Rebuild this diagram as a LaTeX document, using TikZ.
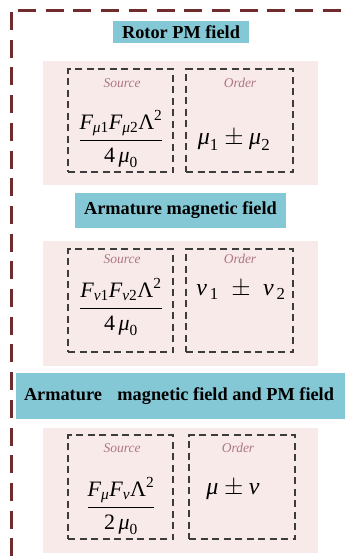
\documentclass[tikz,border=0pt]{standalone}
\usepackage{amsmath}
\usepackage{fontspec}
\setmainfont{Liberation Serif}
\definecolor{framec}{RGB}{112,44,44}
\definecolor{titlec}{RGB}{132,199,213}
\definecolor{panelc}{RGB}{249,234,234}
\definecolor{dboxc}{RGB}{60,60,60}
\definecolor{labc}{RGB}{172,118,128}
\newcommand\vi[1]{\text{\itshape #1}}
\newcommand\vr[1]{\text{#1}}
\newcommand\nup[1]{\raisebox{2pt}{$\displaystyle #1$}}
\newcommand\ddown[1]{\raisebox{-3pt}{$\displaystyle #1$}}
\tikzset{
  framel/.style={draw=framec,line width=2.4pt,dash pattern=on 18pt off 9.7pt},
  titlebox/.style={fill=titlec,inner sep=0pt,font=\bfseries\fontsize{18.3}{20}\selectfont},
  panel/.style={fill=panelc,inner sep=0pt,minimum width=275pt,minimum height=124pt},
  dbox/.style={draw=dboxc,line width=1.2pt,dash pattern=on 7pt off 4.5pt,inner sep=0pt,minimum height=103pt},
  lab/.style={text=labc,inner sep=0pt,font=\itshape\fontsize{13.5}{15}\selectfont},
  formula/.style={inner sep=0pt,text=black,font=\fontsize{22}{26}\selectfont},
  oformula/.style={inner sep=0pt,text=black,font=\fontsize{24}{28}\selectfont},
}
\begin{document}
\begin{tikzpicture}[x=1pt,y=-1pt]
\useasboundingbox (0,0) rectangle (345,560);
% outer dashed frame
\coordinate (ftl) at (18,10.5);
\coordinate (ftr) at (350,10.5);
\coordinate (fl1) at (11.5,12);
\coordinate (fl2) at (11.5,565);
\draw[framel] (ftl) -- (ftr);
\draw[framel] (fl1) -- (fl2);

% ---------- block 1 ----------
\node[titlebox,minimum width=136pt,minimum height=22pt] (t1) at (181,32) {Rotor PM field};
\node[panel] (p1) at (180.5,123) {};
\node[dbox,minimum width=105pt] (s1) at (120.5,120.5) {};
\node[dbox,minimum width=107pt] (o1) at (239.5,120.5) {};
\node[lab] (s1l) at (122,83) {Source};
\node[lab] (o1l) at (240,83) {Order};
\node[formula] (s1f) at (121,139) {$\dfrac{\nup{\vi{F}_{\vi{μ}\vr{1}}\vi{F}_{\vi{μ}\vr{2}}\vr{Λ}^{\vr{2}}}}{\ddown{\vr{4}\,\vi{μ}_{\vr{0}}}}$};
\node[oformula] (o1f) at (234,140) {$\vi{μ}_{\vr{1}}\pm\vi{μ}_{\vr{2}}$};

% ---------- block 2 ----------
\node[titlebox,minimum width=211pt,minimum height=35pt] (t2) at (180.5,210.5) {Armature magnetic field};
\node[panel,minimum height=125pt] (p2) at (180.5,303.5) {};
\node[dbox,minimum width=105pt] (s2) at (120.5,300.5) {};
\node[dbox,minimum width=107pt] (o2) at (239.5,300.5) {};
\node[lab] (s2l) at (122,259) {Source};
\node[lab] (o2l) at (240,259) {Order};
\node[formula] (s2f) at (121,307) {$\dfrac{\nup{\vi{F}_{\vi{ν}\vr{1}}\vi{F}_{\vi{ν}\vr{2}}\vr{Λ}^{\vr{2}}}}{\ddown{\vr{4}\,\vi{μ}_{\vr{0}}}}$};
\node[oformula] (o2f) at (241,290) {$\vi{ν}_{\,\vr{1}}\;\pm\;\vi{ν}_{\,\vr{2}}$};

% ---------- block 3 ----------
\node[titlebox,minimum width=338pt,minimum height=46pt] (t3box) at (185,396) {};
\node[inner sep=0pt,font=\bfseries\fontsize{18.3}{20}\selectfont] (t3) at (179,396) {Armature\hspace{0.6em} magnetic field and PM field};
\node[panel,minimum height=125pt] (p3) at (180.5,490.5) {};
\node[dbox,minimum width=105pt,minimum height=104pt] (s3) at (120.5,487) {};
\node[dbox,minimum width=106pt,minimum height=104pt] (o3) at (242,487) {};
\node[lab] (s3l) at (122,448) {Source};
\node[lab] (o3l) at (238,448) {Order};
\node[formula] (s3f) at (121,506) {$\dfrac{\nup{\vi{F}_{\vi{μ}}\vi{F}_{\vi{ν}}\vr{Λ}^{\vr{2}}}}{\ddown{\vr{2}\,\vi{μ}_{\vr{0}}}}$};
\node[oformula] (o3f) at (233,490) {$\vi{μ}\pm\vi{ν}$};
\end{tikzpicture}
\end{document}
